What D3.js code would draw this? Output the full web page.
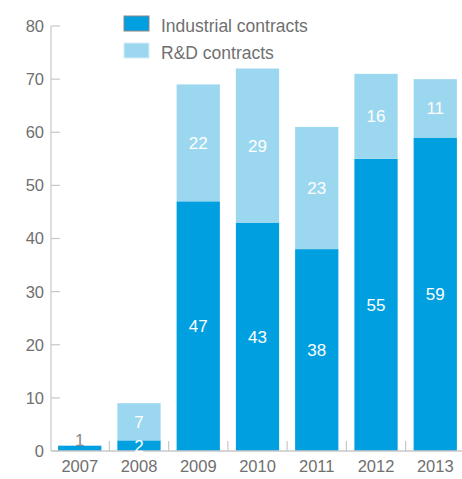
<!DOCTYPE html>
<html>
<head>
<meta charset="utf-8">
<script src="https://cdn.jsdelivr.net/npm/d3@7"></script>
<style>
  body { margin: 0; background: #fff; }
  text { font-family: "Helvetica Neue", Helvetica, Arial, "Liberation Sans", sans-serif; }
</style>
</head>
<body>
<div id="chart"></div>
<script>
var chart_width = 462;
var chart_height = 479;

// Data
var years = ['2007', '2008', '2009', '2010', '2011', '2012', '2013'];
var industrial = [1, 2, 47, 43, 38, 55, 59];
var rnd = [0, 7, 22, 29, 23, 16, 11];
var series_names = ['Industrial contracts', 'R&D contracts'];
var y_ticks = [0, 10, 20, 30, 40, 50, 60, 70, 80];

var dark = '#009fdf';
var light = '#9cd7f0';
var text_color = '#707070';
var axis_color = '#c8c8c8';

var svg = d3.select('#chart')
            .append('svg')
            .attr('width', chart_width)
            .attr('height', chart_height);

//Scales
var x_scale = d3.scaleBand()
                .domain(years)
                .range([51, 464])
                .paddingInner(0.27)
                .paddingOuter(0.12);

var y_scale = d3.scaleLinear()
                .domain([0, 80])
                .range([451, 26]);

var rows = years.map((y, i) => {
    return {year: y, ind: industrial[i], rd: rnd[i]};
});

//Y axis
svg.append('line')
    .attr('x1', 51).attr('x2', 51)
    .attr('y1', y_scale(80)).attr('y2', y_scale(0))
    .attr('stroke', axis_color).attr('stroke-width', 1.2);

svg.selectAll('.ytick')
    .data(y_ticks)
    .enter()
    .append('line')
    .attr('x1', 51).attr('x2', 60)
    .attr('y1', (d) => y_scale(d)).attr('y2', (d) => y_scale(d))
    .attr('stroke', axis_color).attr('stroke-width', 1.2);

svg.selectAll('.ylabel')
    .data(y_ticks)
    .enter()
    .append('text')
    .text((d) => d)
    .attr('x', 44)
    .attr('y', (d) => y_scale(d))
    .attr('dy', '0.36em')
    .attr('text-anchor', 'end')
    .attr('font-size', 16.5)
    .attr('fill', text_color);

//Bars: industrial
svg.selectAll('.ind')
    .data(rows)
    .enter()
    .append('rect')
    .attr('x', (d) => x_scale(d.year))
    .attr('width', x_scale.bandwidth())
    .attr('y', (d) => y_scale(d.ind))
    .attr('height', (d) => y_scale(0) - y_scale(d.ind))
    .attr('fill', dark);

//Bars: R&D stacked on top
svg.selectAll('.rd')
    .data(rows.filter((d) => d.rd > 0))
    .enter()
    .append('rect')
    .attr('x', (d) => x_scale(d.year))
    .attr('width', x_scale.bandwidth())
    .attr('y', (d) => y_scale(d.ind + d.rd))
    .attr('height', (d) => y_scale(d.ind) - y_scale(d.ind + d.rd))
    .attr('fill', light);

//X axis
svg.append('line')
    .attr('x1', 51).attr('x2', chart_width)
    .attr('y1', y_scale(0)).attr('y2', y_scale(0))
    .attr('stroke', axis_color).attr('stroke-width', 1.5);

var step = x_scale.step();
svg.selectAll('.xtick')
    .data(years.slice(1))
    .enter()
    .append('line')
    .attr('x1', (d) => x_scale(d) - step * x_scale.paddingInner() / 2)
    .attr('x2', (d) => x_scale(d) - step * x_scale.paddingInner() / 2)
    .attr('y1', y_scale(0) - 10).attr('y2', y_scale(0))
    .attr('stroke', axis_color).attr('stroke-width', 1.2);

svg.selectAll('.xlabel')
    .data(years)
    .enter()
    .append('text')
    .text((d) => d)
    .attr('x', (d) => x_scale(d) + x_scale.bandwidth() / 2)
    .attr('y', 472)
    .attr('text-anchor', 'middle')
    .attr('font-size', 16.5)
    .attr('fill', text_color);

//Value labels
var labels = [];
rows.forEach((d) => {
    labels.push({year: d.year, v: d.ind, base: 0});
    if (d.rd > 0) labels.push({year: d.year, v: d.rd, base: d.ind});
});

svg.selectAll('.vlabel')
    .data(labels)
    .enter()
    .append('text')
    .text((d) => d.v)
    .attr('x', (d) => x_scale(d.year) + x_scale.bandwidth() / 2)
    .attr('y', (d) => {
        if (d.v < 2) return y_scale(d.base + d.v) - 6;
        return y_scale(d.base + d.v / 2);
    })
    .attr('dy', '0.36em')
    .attr('text-anchor', 'middle')
    .attr('font-size', 17)
    .attr('fill', (d) => d.v < 2 ? '#888' : '#fff');

//Legend
var legend = svg.selectAll('.legend')
    .data(series_names)
    .enter()
    .append('g')
    .attr('transform', (d, i) => 'translate(124,' + (16 + i * 27) + ')');

legend.append('rect')
    .attr('width', 25)
    .attr('height', 15)
    .attr('fill', (d, i) => i === 0 ? dark : light)
    .attr('stroke', (d, i) => i === 0 ? '#888' : '#d8eef8')
    .attr('stroke-width', 1);

legend.append('text')
    .text((d) => d)
    .attr('x', 37)
    .attr('y', 10)
    .attr('dy', '0.36em')
    .attr('font-size', 17.5)
    .attr('fill', text_color);
</script>
</body>
</html>
